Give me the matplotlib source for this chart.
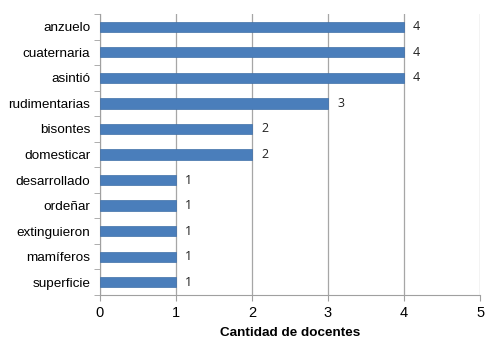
import numpy as np
import matplotlib.pyplot as plt

palabras = ['anzuelo', 'cuaternaria', 'asintió', 'rudimentarias', 'bisontes',
            'domesticar', 'desarrollado', 'ordeñar', 'extinguieron',
            'mamíferos', 'superficie']
docentes = [4, 4, 4, 3, 2, 2, 1, 1, 1, 1, 1]

plt.rcParams['font.family'] = ['Liberation Sans', 'DejaVu Sans']

fig = plt.figure(figsize=(4.99, 3.55), dpi=100)
ax = fig.add_axes([0.2004, 0.169, 0.7616, 0.7916])

y = np.arange(len(palabras))[::-1]
ax.barh(y, docentes, height=0.4, color='#4a7ebb', edgecolor='#3f6fa8',
        linewidth=0.5, zorder=3)

# etiquetas de valor
for yi, v in zip(y, docentes):
    ax.text(v + 0.12, yi, str(v), va='center', ha='left', fontsize=9,
            family=['Open Sans', 'DejaVu Sans'], color='#222222')

ax.set_xlim(0, 5)
ax.set_ylim(-0.5, len(palabras) - 0.5)
ax.set_xticks(range(6))
ax.set_yticks(y)
ax.set_yticklabels(palabras, fontsize=9.7)
ax.set_yticks(np.arange(-0.5, len(palabras), 1), minor=True)
ax.tick_params(axis='y', which='major', length=0, pad=7)
ax.tick_params(axis='y', which='minor', length=4, color='#a0a0a0')
ax.tick_params(axis='x', length=4, color='#a0a0a0', labelsize=10.5, pad=4)

ax.grid(axis='x', color='#a6a6a6', linewidth=0.9, zorder=0)
for s in ['top', 'right']:
    ax.spines[s].set_visible(False)
for s in ['left', 'bottom']:
    ax.spines[s].set_color('#a0a0a0')

ax.set_xlabel('Cantidad de docentes', fontsize=9.7, fontweight='bold', labelpad=5)

fig.savefig('out.png', dpi=100)
